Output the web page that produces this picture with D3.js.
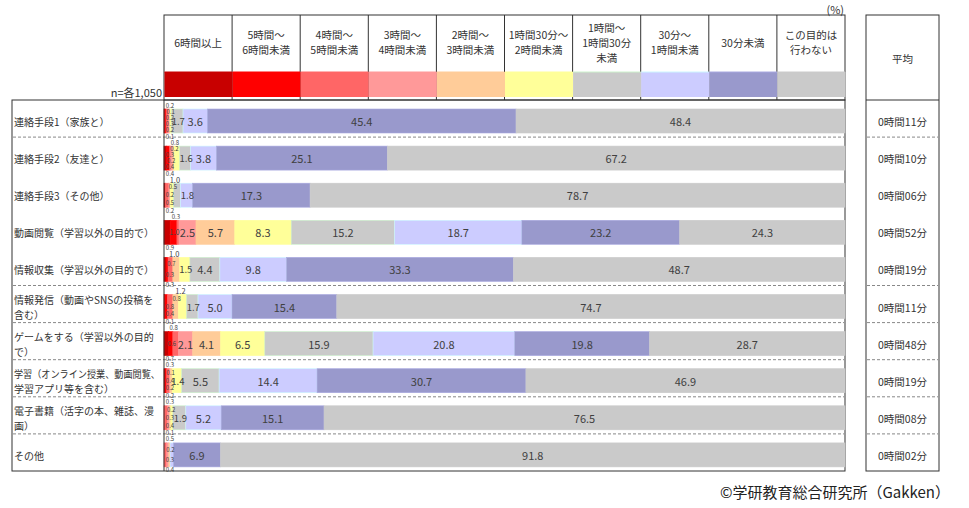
<!DOCTYPE html>
<html><head><meta charset="utf-8">
<script src="https://cdn.jsdelivr.net/npm/d3@7"></script>
<style>
html,body{margin:0;padding:0;background:#fff;}
svg{display:block;font-family:"Noto Sans CJK JP","Noto Sans",sans-serif;}
</style></head>
<body><svg id="chart" width="969" height="508"></svg>
<script>
// ---- data ----
const categories = [
  "連絡手段1（家族と）",
  "連絡手段2（友達と）",
  "連絡手段3（その他）",
  "動画閲覧（学習以外の目的で）",
  "情報収集（学習以外の目的で）",
  "情報発信（動画やSNSの投稿を\n含む）",
  "ゲームをする（学習以外の目的\nで）",
  "学習（オンライン授業、動画閲覧、\n学習アプリ等を含む）",
  "電子書籍（活字の本、雑誌、漫\n画）",
  "その他"
];
const seriesNames = [
  "6時間以上", "5時間～\n6時間未満", "4時間～\n5時間未満", "3時間～\n4時間未満",
  "2時間～\n3時間未満", "1時間30分～\n2時間未満", "1時間～\n1時間30分\n未満",
  "30分～\n1時間未満", "30分未満", "この目的は\n行わない"
];
const h6   = [0.1, 0.4, 0.2, 0.9, 0.3, 0.1, 0.7, 0.2, 0.0, 0.0];
const h5   = [0.2, 0.4, 0.0, 1.0, 0.3, 0.4, 0.6, 0.2, 0.1, 0.0];
const h4   = [0.3, 0.2, 0.5, 0.3, 0.7, 0.8, 0.8, 0.4, 0.4, 0.4];
const h3   = [0.2, 0.3, 0.2, 2.5, 0.0, 0.0, 2.1, 0.1, 0.3, 0.3];
const h2   = [0.1, 0.2, 0.0, 5.7, 1.0, 0.8, 4.1, 0.3, 0.2, 0.2];
const h15  = [0.2, 0.8, 0.5, 8.3, 1.5, 1.2, 6.5, 1.4, 0.3, 0.0];
const h1   = [1.7, 1.6, 1.0, 15.2, 4.4, 1.7, 15.9, 5.5, 1.9, 0.0];
const m30  = [3.6, 3.8, 1.8, 18.7, 9.8, 5.0, 20.8, 14.4, 5.2, 0.5];
const lt30 = [45.4, 25.1, 17.3, 23.2, 33.3, 15.4, 19.8, 30.7, 15.1, 6.9];
const none = [48.4, 67.2, 78.7, 24.3, 48.7, 74.7, 28.7, 46.9, 76.5, 91.8];
const averages = ["0時間11分","0時間10分","0時間06分","0時間52分","0時間19分",
                  "0時間11分","0時間48分","0時間19分","0時間08分","0時間02分"];
const sampleNote = "n=各1,050";
const unitNote = "(%)";
const avgTitle = "平均";
const credit = "©学研教育総合研究所（Gakken）";

// ---- styles ----
const seriesArrays = [h6, h5, h4, h3, h2, h15, h1, m30, lt30, none];
const colors  = ["#C80000","#FF0000","#FF6666","#FF9999","#FFCC99","#FFFF99","#CACACA","#CCCCFF","#9999CC","#CACACA"];
const strokes = ["#C80000","#FF0000","#FF6666","#FF9999","#FFCC99","#FFFF99","#CCF2CC","#CCF5FF","#A8A8E0","#CACACA"];
const dashedAfter = [0, 4, 5, 6, 7, 8];

const svg = d3.select("#chart");
const tableL = 12, barL = 164, barR = 845, tableTop = 100, tableBot = 471;
const headTop = 15, bandTop = 72, bandBot = 97;
const avgL = 866, avgR = 939;
const txt = "#333";

const keys = seriesNames.map((d, i) => "s" + i);
const rows = categories.map((c, r) => {
  const o = { cat: c };
  keys.forEach((k, i) => o[k] = seriesArrays[i][r]);
  return o;
});
const stack = d3.stack().keys(keys).offset(d3.stackOffsetExpand);
const layers = stack(rows);

const x = d3.scaleLinear().domain([0, 1]).range([barL, barR]);
const y = d3.scaleBand().domain(categories).range([tableTop, tableBot]);
const hx = d3.scaleBand().domain(keys).range([barL, barR]);
const barOff = 9, barH = 24;

// ---- header ----
const head = svg.append("g");
head.append("rect").attr("x", barL).attr("y", headTop).attr("width", barR - barL).attr("height", tableTop - headTop)
  .attr("fill", "none").attr("stroke", "#333").attr("stroke-width", 1);
keys.forEach((k, i) => {
  if (i > 0) head.append("line").attr("x1", hx(k)).attr("x2", hx(k)).attr("y1", headTop).attr("y2", tableTop)
    .attr("stroke", "#333").attr("stroke-width", 1);
});
head.selectAll("rect.band").data(keys).join("rect").attr("class", "band")
  .attr("x", k => hx(k) + 0.5).attr("y", bandTop).attr("width", hx.bandwidth()).attr("height", bandBot - bandTop)
  .attr("fill", (k, i) => colors[i]);
head.selectAll("line.bandtop").data(keys).join("line").attr("class", "bandtop")
  .attr("x1", k => hx(k) + 0.5).attr("x2", k => hx(k) + hx.bandwidth()).attr("y1", bandTop).attr("y2", bandTop)
  .attr("stroke", (k, i) => strokes[i]).attr("stroke-width", 1);
keys.forEach((k, i) => {
  const lines = seriesNames[i].split("\n");
  const cx = hx(k) + hx.bandwidth() / 2, cy = 42;
  const t = head.append("text").attr("x", cx).attr("text-anchor", "middle")
    .attr("font-size", 10.5).attr("fill", txt);
  lines.forEach((ln, j) => {
    t.append("tspan").attr("x", cx).attr("y", cy + (j - (lines.length - 1) / 2) * 15)
      .attr("dominant-baseline", "central").text(ln);
  });
});
svg.append("text").attr("x", barR - 1).attr("y", 9).attr("text-anchor", "end")
  .attr("dominant-baseline", "central").attr("font-size", 11).attr("fill", txt).text(unitNote);
svg.append("text").attr("x", 162).attr("y", 92).attr("text-anchor", "end")
  .attr("dominant-baseline", "central").attr("font-size", 11).attr("fill", txt).text(sampleNote);

// ---- average column box ----
svg.append("rect").attr("x", avgL).attr("y", headTop).attr("width", avgR - avgL).attr("height", tableBot - headTop)
  .attr("fill", "none").attr("stroke", "#333").attr("stroke-width", 1);
svg.append("line").attr("x1", avgL).attr("x2", avgR).attr("y1", tableTop).attr("y2", tableTop)
  .attr("stroke", "#333").attr("stroke-width", 1);
svg.append("text").attr("x", (avgL + avgR) / 2).attr("y", (headTop + tableTop) / 2 + 1).attr("text-anchor", "middle")
  .attr("dominant-baseline", "central").attr("font-size", 10.5).attr("fill", txt).text(avgTitle);

// ---- main table frame ----
svg.append("rect").attr("x", tableL).attr("y", tableTop).attr("width", barR - tableL).attr("height", tableBot - tableTop)
  .attr("fill", "none").attr("stroke", "#333").attr("stroke-width", 1);

// dashed separators
dashedAfter.forEach(r => {
  const yy = y(categories[r]) + y.bandwidth();
  svg.append("line").attr("x1", tableL + 1).attr("x2", barR - 1).attr("y1", yy).attr("y2", yy)
    .attr("stroke", "#888").attr("stroke-dasharray", "3,2").attr("stroke-width", 1);
  svg.append("line").attr("x1", avgL + 1).attr("x2", avgR - 1).attr("y1", yy).attr("y2", yy)
    .attr("stroke", "#888").attr("stroke-dasharray", "3,2").attr("stroke-width", 1);
});

// ---- bars ----
const gBars = svg.append("g");
layers.forEach((layer, i) => {
  gBars.append("g").selectAll("rect").data(layer).join("rect")
    .attr("x", d => x(d[0]))
    .attr("y", d => y(d.data.cat) + barOff)
    .attr("width", d => Math.max(0, x(d[1]) - x(d[0])))
    .attr("height", barH)
    .attr("fill", colors[i])
    .attr("stroke", d => (d[1] - d[0]) > 0 ? strokes[i] : "none")
    .attr("stroke-width", 0.6);
});

// label column divider
svg.append("line").attr("x1", barL).attr("x2", barL).attr("y1", tableTop).attr("y2", tableBot)
  .attr("stroke", "#333").attr("stroke-width", 1);

// ---- category labels ----
categories.forEach(c => {
  const lines = c.split("\n");
  const cy = y(c) + y.bandwidth() / 2 + 3;
  lines.forEach((ln, j) => {
    const t = svg.append("text").attr("font-size", 10).attr("fill", txt)
      .attr("x", 14).attr("y", cy + (j - (lines.length - 1) / 2) * 15)
      .attr("dominant-baseline", "central").text(ln);
    const w = t.node().getComputedTextLength();
    if (w > 146) t.attr("textLength", 146).attr("lengthAdjust", "spacingAndGlyphs");
  });
});

// ---- average values ----
categories.forEach((c, r) => {
  svg.append("text").attr("x", (avgL + avgR) / 2).attr("y", y(c) + y.bandwidth() / 2 + 3)
    .attr("text-anchor", "middle").attr("dominant-baseline", "central")
    .attr("font-size", 10.5).attr("fill", txt).text(averages[r]);
});

// ---- value labels ----
function fsize(v) { return v < 1 ? 6 : v < 1.4 ? 7.5 : v < 2 ? 9.5 : 11; }
const gLab = svg.append("g").attr("fill", "#404040");
categories.forEach((c, r) => {
  const top = y(c) + barOff;
  const segs = layers.map((layer, i) => {
    const d = layer[r];
    return { v: seriesArrays[i][r], x0: x(d[0]), x1: x(d[1]) };
  }).filter(s => s.v > 0);
  const tiny = segs.filter(s => s.v < 1.4).reverse();
  segs.filter(s => s.v >= 1.4).forEach(s => {
    gLab.append("text").attr("x", (s.x0 + s.x1) / 2 + (s.v < 2 ? 1 : 0)).attr("y", top + barH / 2)
      .attr("text-anchor", "middle").attr("dominant-baseline", "central")
      .attr("font-size", fsize(s.v)).text(s.v.toFixed(1));
  });
  const n = tiny.length;
  tiny.forEach((s, k) => {
    const yy = n === 1 ? top + barH / 2 : top - 4 + k * (barH + 7) / (n - 1);
    const cx = Math.max(barL + 6, (s.x0 + s.x1) / 2 - 1 + (k % 2 ? 2 : -1));
    gLab.append("text").attr("x", cx).attr("y", yy)
      .attr("text-anchor", "middle").attr("dominant-baseline", "central")
      .attr("font-size", fsize(s.v)).text(s.v.toFixed(1));
  });
});

// ---- credit ----
svg.append("text").attr("x", 950).attr("y", 491).attr("text-anchor", "end")
  .attr("dominant-baseline", "central").attr("font-size", 15).attr("fill", "#222").text(credit);
</script>
</body></html>
